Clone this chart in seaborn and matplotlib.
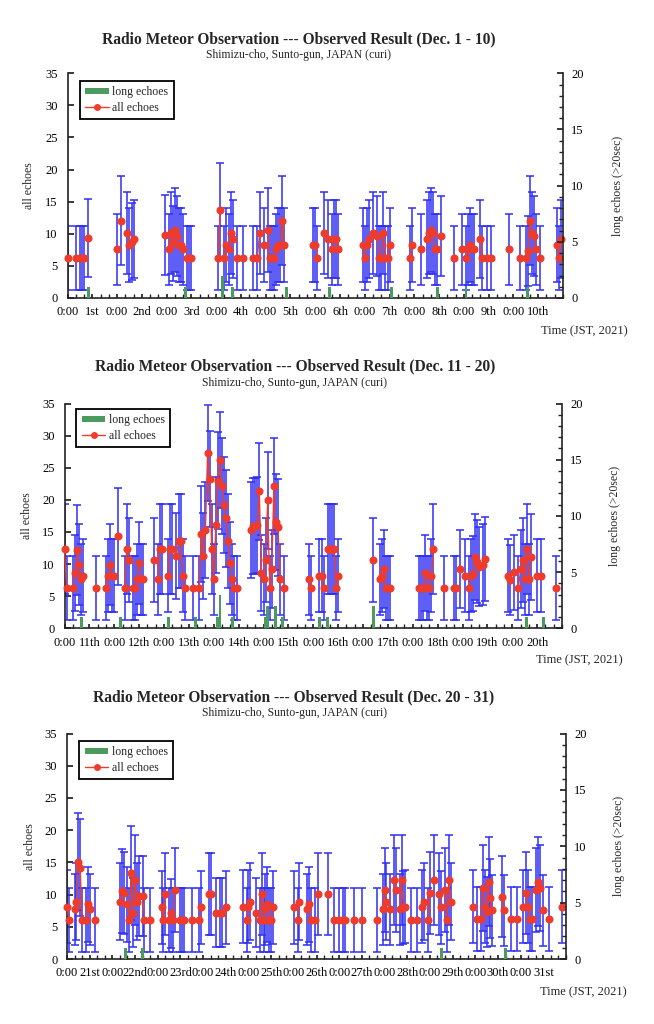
"""
Radio meteor observation, Dec. 2021 -- hourly echo counts in three panels
(all echoes with error bars on the left axis, long echoes on the right axis).
"""

import numpy as np
import pandas as pd
import matplotlib.pyplot as plt
import matplotlib.ticker as mticker
from matplotlib.patches import Patch
from matplotlib.lines import Line2D
import seaborn as sns

# ── style ────────────────────────────────────────────────
sns.set_theme(style="white")
plt.rcParams.update({
    "font.family": ["Liberation Serif", "DejaVu Serif"],
    "axes.unicode_minus": False,
})

RED = '#EE3B2C'
BLUE = '#2F2FF2'
GREEN = '#4C9A5E'
SPINE = '#222222'

SUBTITLE = 'Shimizu-cho, Sunto-gun, JAPAN (curi)'

# ── data: hour index from the first day 0:00, value per hour ──
# Dec. 1 - 10
p1_hours = [0, 4, 6, 7, 8, 10,
            24, 26, 29, 30, 31, 32,
            47, 49, 50, 51, 52, 53, 54, 55, 56, 58, 59, 60,
            73, 74, 76, 77, 78, 79, 80, 82, 85, 90,
            92, 93, 95, 97, 98, 99, 100, 101, 102, 103, 104, 105,
            119, 120, 121, 124, 126, 128, 129, 130, 131,
            143, 144, 145, 146, 148, 150, 151, 152, 153, 154, 155, 156,
            166, 167, 171, 174, 175, 176, 177, 178, 179, 181,
            187, 191, 193, 194, 195, 196, 197, 200, 201, 203, 205,
            214, 219, 222, 223, 224, 225, 226, 227, 229, 237, 238, 239]
p1_all = [6.2, 6.2, 6.2, 6.2, 6.2, 9.3,
          7.6, 12.0, 10.2, 8.3, 8.8, 9.2,
          9.8, 7.6, 10.2, 8.5, 10.6, 9.7, 8.3, 8.3, 7.6, 6.2, 6.2, 6.2,
          6.2, 13.7, 6.2, 8.3, 7.6, 10.2, 9.2, 6.2, 6.2, 6.2,
          6.2, 10.2, 8.3, 10.6, 6.2, 6.2, 6.2, 7.6, 8.3, 8.3, 12.0, 8.3,
          8.3, 8.3, 6.2, 10.2, 9.2, 7.6, 9.2, 9.2, 7.6,
          8.3, 6.2, 8.3, 9.2, 10.2, 9.7, 6.2, 6.2, 10.2, 6.2, 6.2, 8.3,
          6.2, 8.3, 7.6, 9.2, 10.2, 10.6, 10.2, 7.6, 7.6, 9.7,
          6.2, 7.6, 6.2, 7.6, 8.3, 7.6, 7.6, 9.2, 6.2, 6.2, 6.2,
          7.6, 6.2, 6.2, 7.3, 12.0, 10.2, 9.7, 7.6, 6.2, 8.3, 6.2, 9.2]
p1_long_hours = [10, 57, 75, 80, 106, 127, 157, 179, 193, 223]
p1_long = [1, 1, 2, 1, 1, 1, 1, 1, 1, 1]

# Dec. 11 - 20
p2_hours = [0, 1, 4, 5, 6, 7, 8, 9,
            15, 20, 21, 22, 23, 24, 26,
            29, 30, 31, 33, 34, 35, 36, 37, 38,
            43, 45, 46, 47, 50, 51, 52, 54, 55, 56, 57, 58,
            62, 65, 66, 67, 68, 69, 70, 71, 72, 73, 74, 75, 76, 77, 78, 79,
            80, 81, 82, 83,
            90, 91, 92, 93, 94, 95, 96, 97, 98, 99, 100, 101, 102, 103, 104,
            106,
            118, 119, 123, 124, 125, 127, 128, 129, 130, 131, 132,
            149, 152, 153, 154, 155, 156, 157,
            171, 172, 173, 174, 175, 176, 177, 178,
            183, 188, 189, 191, 193, 195, 196, 197, 198, 199, 200, 202, 203,
            214, 215, 217, 219, 220, 221, 222, 223, 224, 225, 228, 230, 237]
p2_all = [12.3, 6.2, 6.2, 8.6, 12.2, 9.9, 7.6, 8.2,
          6.2, 6.2, 8.2, 9.9, 8.2, 8.2, 14.3,
          6.2, 12.3, 10.7, 6.2, 6.2, 7.6, 10.2, 7.6, 7.6,
          10.7, 7.6, 12.3, 12.3, 8.2, 12.3, 12.3, 11.2, 13.6, 13.6, 8.2, 6.2,
          6.2, 6.2, 14.7, 11.2, 15.3, 27.3, 23.2, 12.3, 7.6, 16.1, 23.0, 26.2,
          22.2, 19.2, 17.1, 13.6,
          10.2, 7.6, 6.2, 6.2,
          15.3, 15.9, 15.9, 16.1, 21.3, 8.6, 7.6, 10.7, 19.9, 6.2, 9.2, 22.2,
          16.6, 15.7, 7.6,
          6.2,
          7.6, 6.2, 8.2, 8.2, 6.2, 12.3, 12.3, 12.3, 12.3, 6.2, 8.2,
          10.7, 7.6, 8.2, 9.2, 6.2, 6.2, 6.2,
          6.2, 6.2, 6.2, 8.6, 6.2, 6.2, 8.2, 12.3,
          6.2, 6.2, 6.2, 9.2, 8.2, 6.2, 8.2, 8.5, 11.1, 10.4, 9.6, 9.9, 10.8,
          8.2, 7.5, 8.7, 6.2, 9.2, 10.7, 7.6, 12.3, 7.6, 11.1, 8.2, 8.2, 6.2]
p2_long_hours = [8, 27, 50, 63, 74, 75, 81, 97, 98, 102, 105, 123, 127, 149,
                 223, 231]
p2_long = [1, 1, 1, 1, 1, 3, 1, 1, 2, 2, 1, 1, 1, 2, 1, 1]

# Dec. 20 - 31 (axis labelled 21st .. 31st)
p3_hours = [0, 1, 4, 5, 6, 7, 8, 10, 11, 12, 15,
            28, 29, 30, 32, 33, 34, 35, 36, 37, 38, 40, 41, 44,
            50, 51, 52, 54, 55, 56, 57, 60, 61, 62, 66, 70, 71, 75, 76, 79, 81,
            82, 84,
            93, 95, 96, 97, 100, 102, 103, 104, 105, 106, 107, 108, 109,
            120, 122, 123, 127, 128, 129, 131, 133, 138, 141, 144, 146, 147,
            152, 156, 164, 167, 168, 169, 171, 173, 174, 176, 177, 178, 179,
            182, 185, 188, 189, 191, 192, 194, 197, 198, 200, 201, 202, 203,
            215, 217, 219, 220, 221, 222, 223, 224, 225, 230, 231, 235, 238,
            241, 243, 244, 245, 246, 248, 249, 250, 252, 255, 262]
p3_all = [8.1, 6.1, 7.7, 8.9, 15.1, 14.2, 6.1, 6.1, 8.5, 7.7, 6.1,
          8.9, 10.6, 10.2, 8.5, 6.1, 13.3, 7.2, 12.2, 8.9, 9.8, 9.8, 6.1, 6.1,
          8.0, 6.1, 10.1, 6.1, 7.1, 6.1, 10.7, 6.1, 6.1, 6.1, 6.1, 6.1, 8.0,
          10.1, 10.1, 7.2, 7.2, 7.2, 8.0,
          8.1, 6.1, 8.1, 8.9, 7.2, 6.1, 10.1, 6.1, 7.7, 8.5, 6.1, 6.1, 8.0,
          8.0, 6.1, 8.9, 7.7, 8.5, 6.1, 6.1, 10.1, 10.1, 6.1, 6.1, 6.1, 6.1,
          6.1, 6.1, 6.1, 7.7, 10.7, 8.9, 7.7, 12.2, 10.7, 7.7, 12.2, 8.0, 8.1,
          6.1, 6.1, 8.1, 8.9, 6.1, 10.2, 12.2, 10.1, 8.0, 10.7, 6.1, 12.2, 8.9,
          8.1, 6.2, 6.2, 11.0, 8.1, 7.3, 12.0, 9.4, 7.6, 9.7, 7.6, 6.2, 6.2,
          8.1, 10.2, 8.1, 6.2, 6.2, 10.7, 12.0, 11.0, 7.6, 6.2, 8.1]
p3_long_hours = [31, 40, 198, 232]
p3_long = [1, 1, 1, 1]


def ordinal(d):
    if d % 10 == 1 and d != 11:
        return f'{d}st'
    if d % 10 == 2 and d != 12:
        return f'{d}nd'
    if d % 10 == 3 and d != 13:
        return f'{d}rd'
    return f'{d}th'


def draw_panel(fig, rect, hours, values, long_hours, long_vals,
               first_day, n_days, title, title_xy, sub_y, time_xy,
               ylab_x, rlab_x, leg_anchor):
    ax = fig.add_axes(rect)
    df = pd.DataFrame({'hour': hours, 'value': values})
    df['seg'] = (df['hour'].diff() != 1).cumsum()
    err = np.minimum(2 * np.sqrt(df['value']), 7.5)

    ax.errorbar(df['hour'], df['value'], yerr=err, fmt='none',
                ecolor=BLUE, elinewidth=1.1, capsize=3, capthick=1.1,
                zorder=2)
    sns.lineplot(data=df, x='hour', y='value', units='seg', estimator=None,
                 color=RED, linewidth=0.9, marker='o', markersize=5.8,
                 markeredgewidth=0, legend=False, ax=ax, zorder=3,
                 clip_on=False)

    total = 24 * n_days
    ax.set_xlim(0, total)
    ax.set_ylim(0, 35)
    ax.set_xlabel('')
    ax.set_ylabel('')
    ax.set_yticks(np.arange(0, 36, 5))
    ax.set_xticks(np.arange(0, total, 12))
    ax.set_xticklabels(['0:00' if i % 2 == 0 else ordinal(first_day + i // 2)
                        for i in range(2 * n_days)])
    ax.xaxis.set_minor_locator(mticker.MultipleLocator(4))
    ax.tick_params(axis='both', which='both', direction='in', colors=SPINE,
                   labelcolor='black', labelsize=9)
    ax.tick_params(axis='x', which='major', length=3, pad=6)
    ax.tick_params(axis='x', which='minor', length=3)
    ax.tick_params(axis='y', length=4, pad=7, left=True, right=False)
    ax.tick_params(axis='x', bottom=True, top=False)
    ax.tick_params(axis='x', which='minor', bottom=True, top=False)
    for s in ['top', 'right']:
        ax.spines[s].set_visible(False)
    for s in ['left', 'bottom']:
        ax.spines[s].set_color(SPINE)
        ax.spines[s].set_linewidth(1.2)
    ax.grid(False)

    ax2 = ax.twinx()
    ax2.bar(long_hours, long_vals, width=1.4, color=GREEN, linewidth=0,
            zorder=3)
    ax2.set_ylim(0, 20)
    ax2.set_yticks(np.arange(0, 21, 5))
    ax2.yaxis.set_minor_locator(mticker.MultipleLocator(1))
    ax2.tick_params(axis='y', which='both', direction='in', colors=SPINE,
                    labelcolor='black', labelsize=9, pad=6)
    ax2.tick_params(axis='y', which='major', length=4)
    ax2.tick_params(axis='y', which='minor', length=3, right=True)
    for s in ['top', 'left', 'bottom']:
        ax2.spines[s].set_visible(False)
    ax2.spines['right'].set_color(SPINE)
    ax2.spines['right'].set_linewidth(1.2)
    ax2.grid(False)

    handles = [Patch(facecolor=GREEN, edgecolor='none'),
               Line2D([], [], color=RED, lw=1, marker='o', markersize=5,
                      markeredgewidth=0)]
    leg = ax2.legend(handles, ['long echoes', 'all echoes'],
                     loc='upper left', bbox_to_anchor=leg_anchor,
                     borderaxespad=0, frameon=True, fancybox=False,
                     edgecolor='black', framealpha=1, fontsize=8.5,
                     handlelength=2.0, handleheight=0.45, handletextpad=0.3,
                     borderpad=0.45, labelspacing=0.3)
    leg.get_frame().set_linewidth(1.3)

    W, H = fig.get_size_inches() * fig.dpi
    fig.text(title_xy[0] / W, 1 - title_xy[1] / H, title, ha='center',
             va='center', fontsize=11.2, fontweight='bold')
    fig.text(title_xy[0] / W, 1 - sub_y / H, SUBTITLE, ha='center',
             va='center', fontsize=8.5)
    fig.text(time_xy[0] / W, 1 - time_xy[1] / H, 'Time (JST, 2021)',
             ha='right', va='center', fontsize=9)
    yc = rect[1] + rect[3] / 2
    fig.text(ylab_x / W, yc, 'all echoes', rotation=90,
             ha='center', va='center', fontsize=8.5)
    fig.text(rlab_x / W, yc, 'long echoes (>20sec)', rotation=90,
             ha='center', va='center', fontsize=8.5)
    return ax


fig = plt.figure(figsize=(6.54, 10.24), dpi=100)
fig.patch.set_facecolor('white')

draw_panel(fig, [67.5 / 654, 1 - 298 / 1024, 495.5 / 654, 224.7 / 1024],
           p1_hours, p1_all, p1_long_hours, p1_long, 1, 10,
           'Radio Meteor Observation --- Observed Result (Dec. 1 - 10)',
           (299, 39), 55, (628, 331), 29, 618, (0.025, 0.966))
draw_panel(fig, [64.5 / 654, 1 - 628.3 / 1024, 497.5 / 654, 224.8 / 1024],
           p2_hours, p2_all, p2_long_hours, p2_long, 11, 10,
           'Radio Meteor Observation --- Observed Result (Dec. 11 - 20)',
           (295, 366.5), 383, (623, 660), 27, 615, (0.024, 0.976))
draw_panel(fig, [67 / 654, 1 - 959 / 1024, 499 / 654, 225.4 / 1024],
           p3_hours, p3_all, p3_long_hours, p3_long, 21, 11,
           'Radio Meteor Observation --- Observed Result (Dec. 20 - 31)',
           (294, 697.5), 713, (627, 992), 30, 619, (0.025, 0.968))

fig.savefig('out.png', dpi=100, facecolor='white')
